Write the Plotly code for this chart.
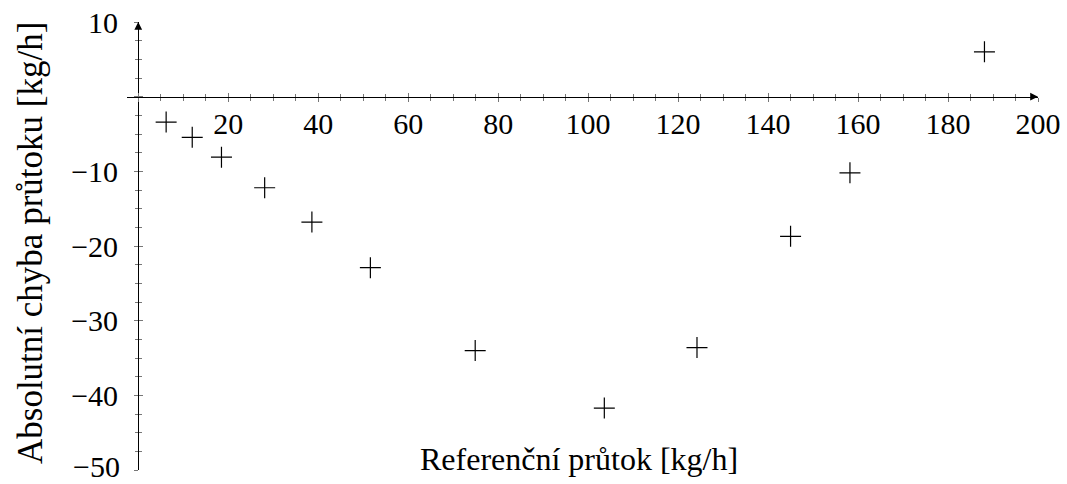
import plotly.graph_objects as go

# Data
ref_flow = [6.2, 12.0, 18.5, 28.1, 38.6, 51.6, 74.9, 103.6, 124.2, 145.0, 158.2, 188.1]
abs_error = [-3.4, -5.45, -8.1, -12.2, -16.8, -22.9, -34.0, -41.7, -33.6, -18.7, -10.2, 6.0]

x_tickvals = [0, 20, 40, 60, 80, 100, 120, 140, 160, 180, 200]
x_ticktext = ["", "20", "40", "60", "80", "100", "120", "140", "160", "180", "200"]
y_tickvals = [-50, -40, -30, -20, -10, 0, 10]
y_ticktext = ["", "\u221240", "\u221230", "\u221220", "\u221210", "", "10"]
y_bottom_label = "\u221250"

x_title = "Referenční průtok [kg/h]"
y_title = "Absolutní chyba průtoku [kg/h]"

XMIN, XMAX = -2.5, 200
YMIN, YMAX = -50, 10

FONT = "Liberation Serif"
FS = 30
TICKC = "#777777"

fig = go.Figure()
fig.add_trace(go.Scatter(
    x=ref_flow, y=abs_error, mode="markers",
    marker=dict(symbol="cross-thin", size=15, line=dict(width=1.2, color="black"), color="black"),
    showlegend=False, hoverinfo="skip"))
# empty traces to activate overlay axes (for ticks crossing the axis line)
fig.add_trace(go.Scatter(x=[], y=[], xaxis="x2", yaxis="y", showlegend=False))
fig.add_trace(go.Scatter(x=[], y=[], xaxis="x", yaxis="y2", showlegend=False))

xpos = (0 - YMIN) / (YMAX - YMIN)
ypos = (0 - XMIN) / (XMAX - XMIN)

common_x = dict(range=[XMIN, XMAX], anchor="free", position=xpos, showgrid=False,
                zeroline=False, tickmode="array", tickvals=x_tickvals,
                tickcolor=TICKC, tickwidth=1, automargin=False)
common_y = dict(range=[YMIN, YMAX], anchor="free", position=ypos, showgrid=False,
                zeroline=False, tickmode="array", tickvals=y_tickvals,
                tickcolor=TICKC, tickwidth=1, automargin=False)

fig.update_layout(
    width=1067, height=484,
    margin=dict(l=127, r=29, t=22, b=14),
    paper_bgcolor="white", plot_bgcolor="white",
    font=dict(family=FONT, size=FS, color="black"),
    xaxis=dict(**common_x, ticktext=x_ticktext, ticks="outside", ticklen=4,
               showline=True, linecolor="black", linewidth=1.3,
               minor=dict(dtick=5, tick0=0, ticks="outside", ticklen=3, tickcolor=TICKC, tickwidth=1),
               tickfont=dict(family=FONT, size=FS, color="black"), ticklabelstandoff=-4,
               ticklabeloverflow="allow"),
    xaxis2=dict(**common_x, overlaying="x", matches="x", side="bottom", ticks="inside", ticklen=4,
                showticklabels=False, showline=False,
                minor=dict(dtick=5, tick0=0, ticks="inside", ticklen=3, tickcolor=TICKC, tickwidth=1)),
    yaxis=dict(**common_y, ticktext=y_ticktext, ticks="outside", ticklen=4,
               showline=True, linecolor="black", linewidth=1.3,
               minor=dict(dtick=2.5, tick0=0, ticks="outside", ticklen=3, tickcolor=TICKC, tickwidth=1),
               tickfont=dict(family=FONT, size=FS, color="black"), ticklabelstandoff=10,
               ticklabeloverflow="allow"),
    yaxis2=dict(**common_y, overlaying="y", matches="y", side="left", ticks="inside", ticklen=4,
                showticklabels=False, showline=False,
                minor=dict(dtick=2.5, tick0=0, ticks="inside", ticklen=3, tickcolor=TICKC, tickwidth=1)),
    annotations=[
        dict(x=XMAX, y=0, ax=XMAX - 1, ay=0, xref="x", yref="y", axref="x", ayref="y",
             text="", showarrow=True, arrowhead=2, arrowsize=1.3, arrowwidth=1.2, arrowcolor="black"),
        dict(x=0, y=YMAX, ax=0, ay=YMAX - 0.5, xref="x", yref="y", axref="x", ayref="y",
             text="", showarrow=True, arrowhead=2, arrowsize=1.3, arrowwidth=1.2, arrowcolor="black"),
        dict(text=y_bottom_label, xref="paper", yref="y", x=(122 - 127) / 911, y=YMIN,
             xanchor="right", yanchor="middle", yshift=4, showarrow=False,
             font=dict(family=FONT, size=FS, color="black")),
        dict(text=x_title, xref="paper", yref="paper", x=(579 - 127) / 911, y=(470 - 459) / 448,
             xanchor="center", yanchor="middle", showarrow=False,
             font=dict(family=FONT, size=32, color="black")),
        dict(text=y_title, xref="paper", yref="paper", x=(30 - 127) / 911, y=(470 - 243) / 448,
             xanchor="center", yanchor="middle", textangle=-90, showarrow=False,
             font=dict(family=FONT, size=35, color="black")),
    ],
)

fig.write_html("out.html", config={"displayModeBar": False},
               post_script="document.body.style.margin='0px';")
